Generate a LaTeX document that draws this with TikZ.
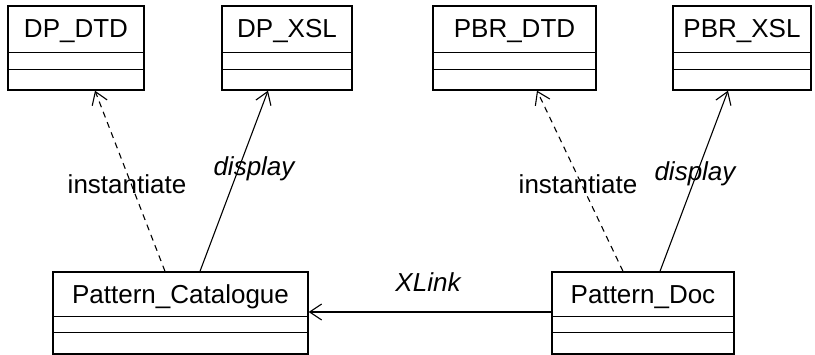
\documentclass[tikz,border=0pt]{standalone}
\usepackage{fontspec}
\setmainfont{Liberation Sans}
\usetikzlibrary{arrows.meta}

\begin{document}
\begin{tikzpicture}[x=1pt,y=-1pt,
  classbox/.style={draw, line width=1.4pt, inner sep=0pt, minimum height=84pt},
  lbl/.style={inner sep=0pt, font=\fontsize{26}{30}\selectfont},
  divider/.style={line width=1.4pt},
  uses/.style={-{Straight Barb[length=12pt,width=16pt]}, line width=1.1pt},
  instof/.style={uses, dash pattern=on 6pt off 5pt}]

\useasboundingbox (0,0) rectangle (815,355);

% upper classes
\node[classbox, minimum width=136pt] (DPDTD) at (76,48) {};
\node[lbl] (DPDTDname) at ([yshift=-26pt]DPDTD.north) {DP\_DTD};
\draw[divider] ([yshift=-47pt]DPDTD.north west) -- ([yshift=-47pt]DPDTD.north east);
\draw[divider] ([yshift=-64pt]DPDTD.north west) -- ([yshift=-64pt]DPDTD.north east);

\node[classbox, minimum width=130pt] (DPXSL) at (287,48) {};
\node[lbl] (DPXSLname) at ([yshift=-26pt]DPXSL.north) {DP\_XSL};
\draw[divider] ([yshift=-47pt]DPXSL.north west) -- ([yshift=-47pt]DPXSL.north east);
\draw[divider] ([yshift=-64pt]DPXSL.north west) -- ([yshift=-64pt]DPXSL.north east);

\node[classbox, minimum width=163pt] (PBRDTD) at (514.5,48) {};
\node[lbl] (PBRDTDname) at ([yshift=-26pt]PBRDTD.north) {PBR\_DTD};
\draw[divider] ([yshift=-47pt]PBRDTD.north west) -- ([yshift=-47pt]PBRDTD.north east);
\draw[divider] ([yshift=-64pt]PBRDTD.north west) -- ([yshift=-64pt]PBRDTD.north east);

\node[classbox, minimum width=138pt] (PBRXSL) at (742,48) {};
\node[lbl] (PBRXSLname) at ([yshift=-26pt]PBRXSL.north) {PBR\_XSL};
\draw[divider] ([yshift=-47pt]PBRXSL.north west) -- ([yshift=-47pt]PBRXSL.north east);
\draw[divider] ([yshift=-64pt]PBRXSL.north west) -- ([yshift=-64pt]PBRXSL.north east);

% lower classes
\node[classbox, minimum width=255pt, minimum height=82pt] (PCat) at (180.5,313) {};
\node[lbl] (PCatname) at ([yshift=-25.5pt]PCat.north) {Pattern\_Catalogue};
\draw[divider] ([yshift=-45pt]PCat.north west) -- ([yshift=-45pt]PCat.north east);
\draw[divider] ([yshift=-61pt]PCat.north west) -- ([yshift=-61pt]PCat.north east);

\node[classbox, minimum width=182pt, minimum height=82pt] (PDoc) at (643,313) {};
\node[lbl] (PDocname) at ([yshift=-25.5pt]PDoc.north) {Pattern\_Doc};
\draw[divider] ([yshift=-45pt]PDoc.north west) -- ([yshift=-45pt]PDoc.north east);
\draw[divider] ([yshift=-61pt]PDoc.north west) -- ([yshift=-61pt]PDoc.north east);

% relations
\draw[instof] ([xshift=-15.5pt]PCat.north) -- ([xshift=19pt]DPDTD.south);
\draw[uses] ([xshift=19.5pt]PCat.north) -- ([xshift=-19pt]DPXSL.south);
\draw[instof] ([xshift=-20pt]PDoc.north) -- ([xshift=22.5pt]PBRDTD.south);
\draw[uses] ([xshift=17pt]PDoc.north) -- ([xshift=-14pt]PBRXSL.south);
\draw[uses] ([yshift=1pt]PDoc.west) -- ([yshift=1pt]PCat.east);

% labels
\node[lbl] (inst1) at (127,184) {instantiate};
\node[lbl] (disp1) at (254,169) {\itshape display};
\node[lbl] (inst2) at (578,184) {instantiate};
\node[lbl] (disp2) at (695,174) {\itshape display};
\node[lbl] (xlink) at (428,282) {\itshape XLink};

\end{tikzpicture}
\end{document}
